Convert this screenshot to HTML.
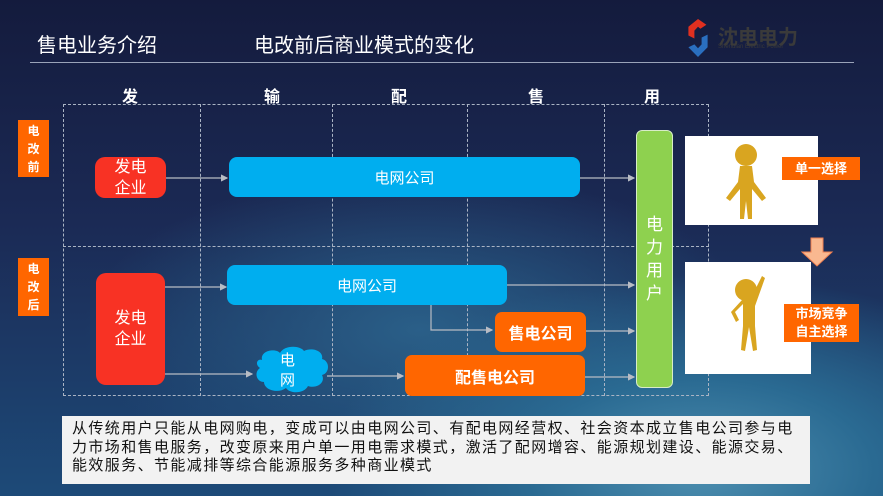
<!DOCTYPE html>
<html><head><meta charset="utf-8"><style>
*{margin:0;padding:0;box-sizing:border-box}
body{width:883px;height:496px;overflow:hidden;position:relative;font-family:"Liberation Sans","Noto Sans CJK SC",sans-serif;
background:radial-gradient(ellipse 500px 260px at 700px 470px,#4d8fb0 0%,#2a6a92 35%,transparent 75%),radial-gradient(ellipse 420px 200px at 420px 330px,#2a5f88 0%,transparent 80%),linear-gradient(180deg,#141b3d 0%,#1b2a55 45%,#1d4a78 100%);}
.a{position:absolute}
.t{color:#fff;font-size:20px}
.h{color:#fff;font-size:16px;font-weight:bold}
.box{position:absolute;display:flex;align-items:center;justify-content:center;color:#fff;text-align:center}
.red{background:#f83224;border-radius:10px;font-size:16px;line-height:21px}
.blue{background:#00aeef;border-radius:8px;font-size:15px}
.or{background:#ff6600;border-radius:7px;font-size:16px;font-weight:bold}
.lab{background:#ff6600;font-size:12px;font-weight:bold;line-height:18px}
.dl{position:absolute;border-left:1px dashed #aab4c4}
.dh{position:absolute;border-top:1px dashed #aab4c4}
</style></head><body>
<div class="a t" style="left:37px;top:29px">售电业务介绍</div>
<div class="a t" style="left:254px;top:29px">电改前后商业模式的变化</div>
<div class="a" style="left:30px;top:62px;width:824px;height:1px;background:#9aa3b8"></div>
<svg class="a" style="left:686px;top:17px;width:24px;height:41px" viewBox="0 0 40 84" preserveAspectRatio="none"><path d="M4 20 L20 4 L34 16 L24 24 L20 20 L14 28 L14 44 L4 38Z" fill="#e03020"/><path d="M36 36 L36 62 L20 82 L4 62 L14 56 L20 64 L26 56 L26 42Z" fill="#2a6fc0"/></svg>
<div class="a" style="left:718px;top:21px;color:#3a3a3a;font-size:20px;font-weight:bold">沈电电力</div>
<div class="a" style="left:718px;top:44px;color:#3a3a3a;font-size:6px">Shendian Electric Power</div>
<div class="a h" style="left:122px;top:83px">发</div>
<div class="a h" style="left:264px;top:83px">输</div>
<div class="a h" style="left:391px;top:83px">配</div>
<div class="a h" style="left:528px;top:83px">售</div>
<div class="a h" style="left:644px;top:83px">用</div>
<div class="dh" style="left:63px;top:104px;width:646px"></div>
<div class="dh" style="left:63px;top:246px;width:646px"></div>
<div class="dh" style="left:63px;top:395px;width:646px"></div>
<div class="dl" style="left:63px;top:104px;height:292px"></div>
<div class="dl" style="left:200px;top:104px;height:292px"></div>
<div class="dl" style="left:332px;top:104px;height:292px"></div>
<div class="dl" style="left:467px;top:104px;height:292px"></div>
<div class="dl" style="left:604px;top:104px;height:292px"></div>
<div class="dl" style="left:708px;top:104px;height:292px"></div>
<div class="box lab" style="left:18px;top:120px;width:31px;height:57px">电<br>改<br>前</div>
<div class="box lab" style="left:18px;top:258px;width:31px;height:58px">电<br>改<br>后</div>
<svg class="a" style="left:0;top:0" width="883" height="496">
<defs><marker id="m" markerWidth="6" markerHeight="6" refX="5" refY="3" orient="auto"><path d="M0 0L6 3L0 6Z" fill="#b8bcc4"/></marker></defs>
<g stroke="#b8bcc4" stroke-width="1.2" fill="none" marker-end="url(#m)">
<path d="M165 178H227"/><path d="M580 178H634"/>
<path d="M165 287H226"/><path d="M507 285H634"/>
<path d="M431 304V330H492"/><path d="M586 331H634"/>
<path d="M165 374H252"/><path d="M327 376H403"/><path d="M585 377H634"/>
</g>
<path d="M262 360c-2-10 14-12 18-7 4-8 20-8 24-2 8-4 20 0 18 8 8 2 8 14 0 16 4 8-6 14-14 11-4 8-18 8-22 2-8 6-22 2-22-6-8 0-10-10-4-14-6-4-2-10 2-8z" fill="#00aeef"/>
<path d="M811 238h12v14h9l-15 14-15-14h9z" fill="#f9b890" stroke="#f08050"/>
</svg>
<div class="box red" style="left:95px;top:157px;width:71px;height:41px">发电<br>企业</div>
<div class="box blue" style="left:229px;top:157px;width:351px;height:40px">电网公司</div>
<div class="box red" style="left:96px;top:273px;width:69px;height:112px">发电<br>企业</div>
<div class="box blue" style="left:227px;top:265px;width:280px;height:40px">电网公司</div>
<div class="box or" style="left:495px;top:312px;width:91px;height:40px">售电公司</div>
<div class="box or" style="left:405px;top:355px;width:180px;height:41px">配售电公司</div>
<div class="a" style="left:280px;top:351px;color:#fff;font-size:15px;line-height:20px">电<br>网</div>
<div class="box" style="left:636px;top:130px;width:37px;height:258px;background:#8ed14f;border-radius:6px;border:1px solid #d8ecc8;font-size:17px;line-height:23px">电<br>力<br>用<br>户</div>
<div class="a" style="left:685px;top:136px;width:133px;height:89px;background:#fff"></div>
<div class="a" style="left:685px;top:262px;width:126px;height:112px;background:#fff"></div>
<svg class="a" style="left:720px;top:140px" width="60" height="240"><g fill="#d9a520"><circle cx="26" cy="15" r="11"/><path d="M20 26h12l2 16 12 16-4 3-10-12v30h-4l-2-18-2 18h-4v-30l-10 12-4-3 12-16z"/><circle cx="26" cy="150" r="11"/><path d="M22 160h8l12-24 3 2-10 28v20l2 24-4 1-4-24-4 24-4-1 2-24v-22l-8 8 4 8-3 2-5-10z"/></g></svg>
<div class="box lab" style="left:782px;top:157px;width:78px;height:23px;font-size:13px">单一选择</div>
<div class="box lab" style="left:784px;top:304px;width:75px;height:38px;font-size:13px">市场竞争<br>自主选择</div>
<div class="a" style="left:62px;top:416px;width:748px;height:68px;background:#f2f2f2;color:#111;font-size:15px;line-height:18.5px;padding:4px 0 0 10px;white-space:nowrap;letter-spacing:1.4px;overflow:hidden">从传统用户只能从电网购电，变成可以由电网公司、有配电网经营权、社会资本成立售电公司参与电<br>力市场和售电服务，改变原来用户单一用电需求模式，激活了配网增容、能源规划建设、能源交易、<br>能效服务、节能减排等综合能源服务多种商业模式</div>
</body></html>
